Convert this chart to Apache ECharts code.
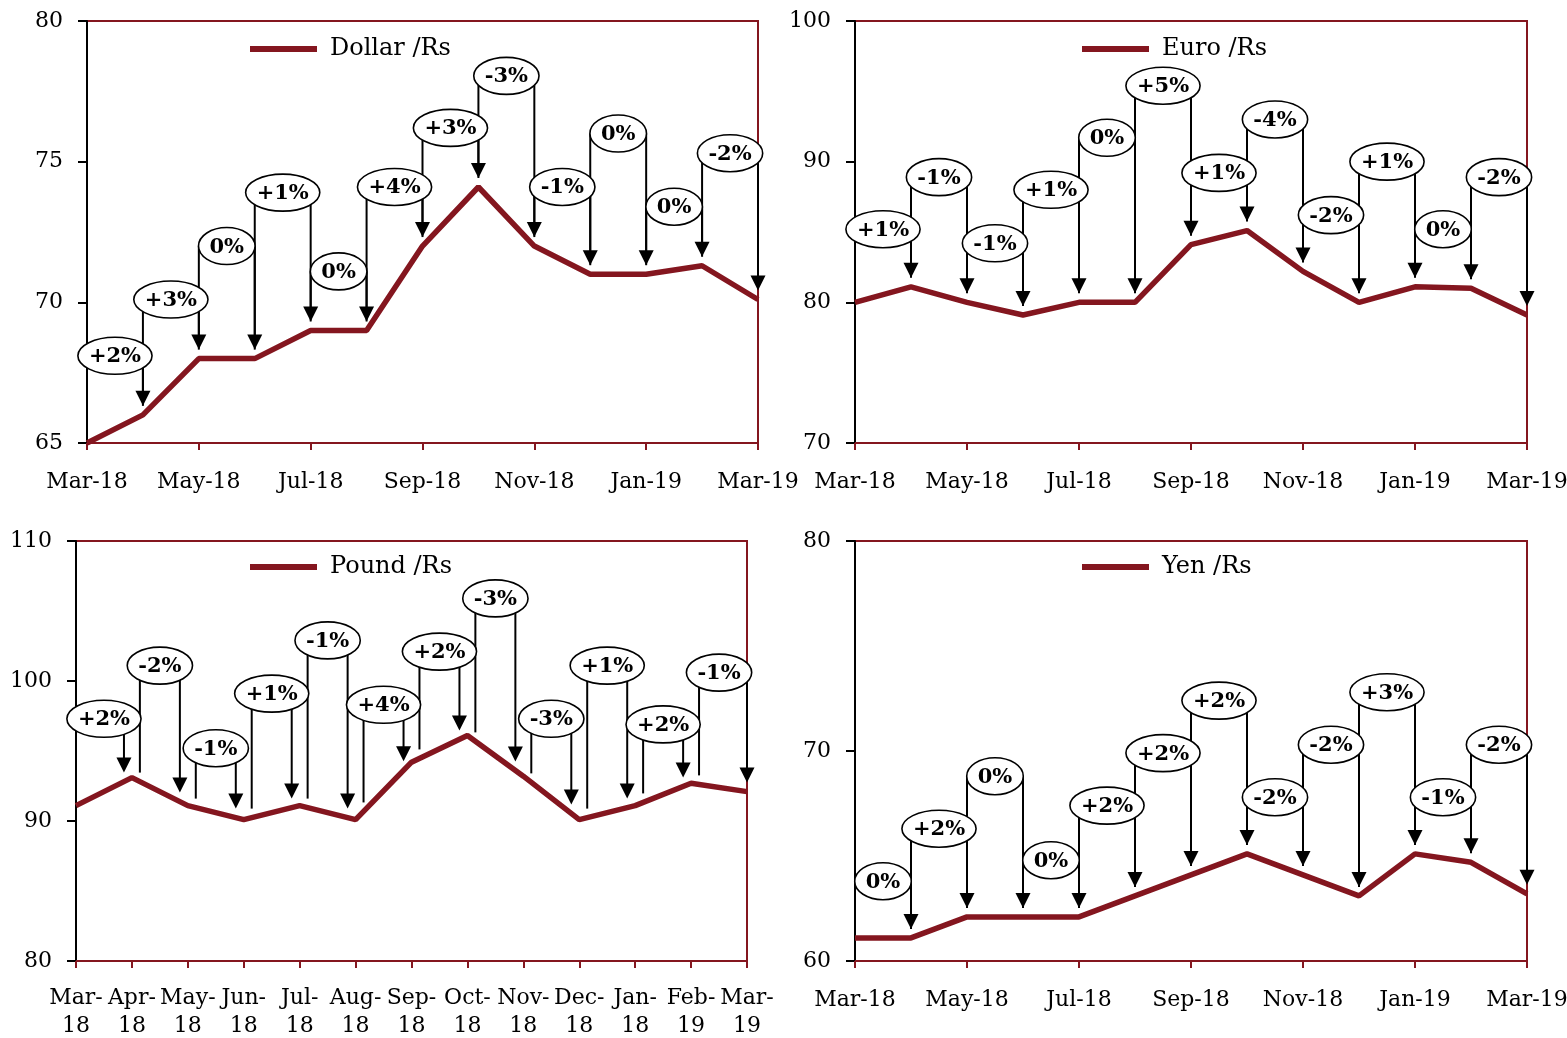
<!DOCTYPE html>
<html>
<head>
<meta charset="utf-8">
<title>Rupee exchange rates, Mar-18 to Mar-19</title>
<script src="https://cdn.jsdelivr.net/npm/echarts@6/dist/echarts.min.js"></script>
<style>
  html, body { margin: 0; padding: 0; background: #fff; }
  #chart { width: 1567px; height: 1038px; }
</style>
</head>
<body>
<div id="chart"></div>
<script>
// Months on the category axis
const months = ['Mar-18', 'Apr-18', 'May-18', 'Jun-18', 'Jul-18', 'Aug-18', 'Sep-18',
                'Oct-18', 'Nov-18', 'Dec-18', 'Jan-19', 'Feb-19', 'Mar-19'];
// The pound panel labels every month (its January label reads "Jan-18")
const poundMonths = ['Mar-18', 'Apr-18', 'May-18', 'Jun-18', 'Jul-18', 'Aug-18', 'Sep-18',
                     'Oct-18', 'Nov-18', 'Dec-18', 'Jan-18', 'Feb-19', 'Mar-19'];

// Monthly rates (Rs per unit of currency)
const dollarRs = [65.0, 66.0, 68.0, 68.0, 69.0, 69.0, 72.0, 74.1, 72.0, 71.0, 71.0, 71.3, 70.1];
const euroRs   = [80.0, 81.1, 80.0, 79.1, 80.0, 80.0, 84.1, 85.1, 82.2, 80.0, 81.1, 81.0, 79.1];
const poundRs  = [91.1, 93.1, 91.1, 90.1, 91.1, 90.1, 94.2, 96.1, 93.2, 90.1, 91.1, 92.7, 92.1];
const yenRs    = [61.1, 61.1, 62.1, 62.1, 62.1, 63.1, 64.1, 65.1, 64.1, 63.1, 65.1, 64.7, 63.2];

// Month-on-month change shown in each callout
const dollarChange = ['+2%', '+3%', '0%', '+1%', '0%', '+4%', '+3%', '-3%', '-1%', '0%', '0%', '-2%'];
const euroChange   = ['+1%', '-1%', '-1%', '+1%', '0%', '+5%', '+1%', '-4%', '-2%', '+1%', '0%', '-2%'];
const poundChange  = ['+2%', '-2%', '-1%', '+1%', '-1%', '+4%', '+2%', '-3%', '-3%', '+1%', '+2%', '-1%'];
const yenChange    = ['0%', '+2%', '0%', '0%', '+2%', '+2%', '+2%', '-2%', '-2%', '+3%', '-1%', '-2%'];

// Height (in axis units) at which each callout bubble sits
const dollarTagAt = [68.1, 70.1, 72.0, 73.9, 71.1, 74.1, 76.2, 78.05, 74.1, 76.0, 73.4, 75.3];
const euroTagAt   = [85.2, 88.9, 84.2, 88.0, 91.7, 95.4, 89.2, 93.0, 86.2, 90.0, 85.2, 88.9];
const poundTagAt  = [97.3, 101.1, 95.2, 99.1, 102.9, 98.3, 102.1, 105.9, 97.3, 101.1, 96.9, 100.6];
const yenTagAt    = [63.8, 66.3, 68.8, 64.8, 67.4, 69.9, 72.4, 67.8, 70.3, 72.8, 67.8, 70.3];

// Y-axis ranges: [min, max, step]
const dollarTicks = [65, 80, 5];
const euroTicks   = [70, 100, 10];
const poundTicks  = [80, 110, 10];
const yenTicks    = [60, 80, 10];

const RED = '#84161F';
const FONT = '"DejaVu Serif", Georgia, serif';
const TAG_FONT = 'bold 21px ' + FONT;
const GAP = 9;

const measure = document.createElement('canvas').getContext('2d');
measure.font = TAG_FONT;

const panels = [
  { name: 'Dollar /Rs', cats: months, values: dollarRs, change: dollarChange, tagAt: dollarTagAt, ticks: dollarTicks,
    grid: { left: 87, top: 21, width: 671, height: 422 }, legend: { left: 250, top: 37 }, everyMonth: false },
  { name: 'Euro /Rs', cats: months, values: euroRs, change: euroChange, tagAt: euroTagAt, ticks: euroTicks,
    grid: { left: 855, top: 21, width: 672, height: 422 }, legend: { left: 1082, top: 37 }, everyMonth: false },
  { name: 'Pound /Rs', cats: poundMonths, values: poundRs, change: poundChange, tagAt: poundTagAt, ticks: poundTicks,
    grid: { left: 76, top: 541, width: 671, height: 420 }, legend: { left: 250, top: 555 }, everyMonth: true },
  { name: 'Yen /Rs', cats: months, values: yenRs, change: yenChange, tagAt: yenTagAt, ticks: yenTicks,
    grid: { left: 855, top: 541, width: 672, height: 420 }, legend: { left: 1082, top: 555 }, everyMonth: false }
];

// Leg positions for the callout between month i and month i+1
function legs(panel, i, api) {
  const v = panel.values;
  const p0 = api.coord([i, v[i]]);
  const p1 = api.coord([i + 1, v[i + 1]]);
  const mid = (p0[0] + p1[0]) / 2;
  let xl = p0[0], xr = p1[0];
  if (panel.everyMonth) {
    if (i > 0) xl = mid - 20;
    if (i < v.length - 2) xr = mid + 20;
  }
  const yAt = x => p0[1] + (p1[1] - p0[1]) * (x - p0[0]) / (p1[0] - p0[0]);
  return { p0, p1, mid, xl, xr, yl: yAt(xl), yr: yAt(xr) };
}

function legRenderer(panel) {
  return function (params, api) {
    const i = params.dataIndex;
    const g = legs(panel, i, api);
    const tagY = api.coord([i, panel.tagAt[i]])[1];
    const tip = g.yr - GAP;
    const stroke = { stroke: '#000', lineWidth: 2 };
    return {
      type: 'group',
      children: [
        { type: 'line', shape: { x1: g.xl, y1: tagY, x2: g.xl, y2: g.yl - GAP }, style: stroke },
        { type: 'line', shape: { x1: g.xr, y1: tagY, x2: g.xr, y2: tip - 12 }, style: stroke },
        { type: 'polygon', shape: { points: [[g.xr - 7.5, tip - 15], [g.xr + 7.5, tip - 15], [g.xr, tip]] },
          style: { fill: '#000' } }
      ]
    };
  };
}

function bubbleRenderer(panel) {
  return function (params, api) {
    const i = params.dataIndex;
    const g = legs(panel, i, api);
    const cy = api.coord([i, panel.tagAt[i]])[1];
    const text = panel.change[i];
    const w = measure.measureText(text).width + 22;
    return {
      type: 'group',
      children: [
        { type: 'ellipse', shape: { cx: g.mid, cy: cy, rx: w / 2, ry: 18.5 },
          style: { fill: '#fff', stroke: '#000', lineWidth: 1.6 } },
        { type: 'text', style: { text: text, x: g.mid, y: cy + 1, align: 'center', verticalAlign: 'middle',
          font: TAG_FONT, fill: '#000' } }
      ]
    };
  };
}

const option = {
  animation: false,
  backgroundColor: '#fff',
  grid: [], xAxis: [], yAxis: [], legend: [], series: []
};

panels.forEach((p, k) => {
  option.grid.push(Object.assign({
    show: true, borderColor: RED, borderWidth: 2, backgroundColor: 'transparent',
    containLabel: false, outerBoundsMode: 'none'
  }, p.grid));
  option.xAxis.push({
    type: 'category', gridIndex: k, data: p.cats, boundaryGap: false,
    axisLine: { lineStyle: { color: RED, width: 2 } },
    axisTick: { interval: p.everyMonth ? 0 : 1, length: 7, lineStyle: { color: RED, width: 2 } },
    axisLabel: {
      interval: p.everyMonth ? 0 : 1, color: '#000', fontFamily: FONT, fontSize: 22,
      margin: p.everyMonth ? 23 : 25, lineHeight: 28,
      formatter: p.everyMonth ? (s => s.replace('-', '-\n')) : (s => s)
    },
    splitLine: { show: false }
  });
  option.yAxis.push({
    type: 'value', gridIndex: k, min: p.ticks[0], max: p.ticks[1], interval: p.ticks[2],
    axisLine: { show: true, lineStyle: { color: '#000', width: 2 } },
    axisTick: { show: true, length: 9, lineStyle: { color: '#000', width: 2 } },
    axisLabel: { color: '#000', fontFamily: FONT, fontSize: 22, margin: 24 },
    splitLine: { show: false }
  });
  option.legend.push({
    data: [p.name], left: p.legend.left, top: p.legend.top, padding: 0,
    icon: 'rect', itemWidth: 67, itemHeight: 6, selectedMode: false,
    textStyle: { color: '#000', fontFamily: FONT, fontSize: 24, padding: [0, 0, 0, 8] }
  });
  option.series.push({
    name: p.name, type: 'line', xAxisIndex: k, yAxisIndex: k, data: p.values,
    symbol: 'none', z: 2,
    lineStyle: { color: RED, width: 5.5 }, itemStyle: { color: RED }
  });
  const tagData = p.change.map((c, i) => [i, p.tagAt[i]]);
  option.series.push({
    name: p.name + ' legs', type: 'custom', xAxisIndex: k, yAxisIndex: k, z: 3,
    data: tagData, renderItem: legRenderer(p), encode: { x: 0, y: 1 }, silent: true
  });
  option.series.push({
    name: p.name + ' tags', type: 'custom', xAxisIndex: k, yAxisIndex: k, z: 4,
    data: tagData, renderItem: bubbleRenderer(p), encode: { x: 0, y: 1 }, silent: true
  });
});

const chart = echarts.init(document.getElementById('chart'), null, { renderer: 'canvas' });
chart.setOption(option);
</script>
</body>
</html>
